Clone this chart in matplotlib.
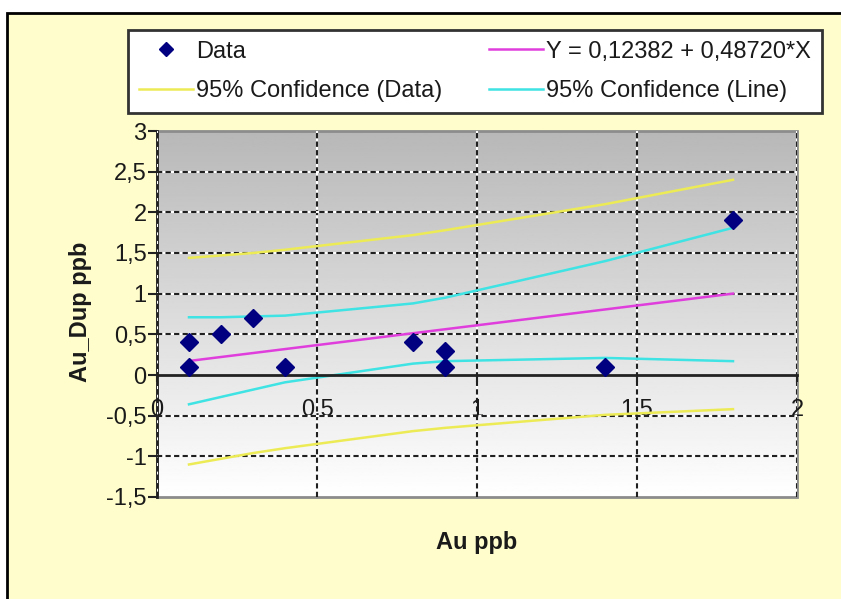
import numpy as np
import matplotlib
matplotlib.use('Agg')
import matplotlib.pyplot as plt
from matplotlib.patches import Rectangle
from matplotlib.lines import Line2D

plt.rcParams['font.family'] = ['Liberation Sans', 'DejaVu Sans']

# Au vs duplicate Au (ppb)
au     = [0.1, 0.1, 0.2, 0.3, 0.4, 0.8, 0.9, 0.9, 1.4, 1.8]
au_dup = [0.4, 0.1, 0.5, 0.7, 0.1, 0.4, 0.3, 0.1, 0.1, 1.9]

# fitted line
intercept = 0.12382
slope     = 0.48720
fit_x     = [0.1, 1.8]

# 95% bands at the sample x values
band_x  = [0.1, 0.2, 0.3, 0.4, 0.8, 0.9, 1.4, 1.8]
pred_lo = [-1.10, -1.03, -0.96, -0.90, -0.69, -0.65, -0.49, -0.42]
pred_hi = [1.44, 1.47, 1.50, 1.54, 1.72, 1.78, 2.10, 2.40]
line_lo = [-0.36, -0.27, -0.18, -0.09, 0.14, 0.17, 0.21, 0.17]
line_hi = [0.71, 0.71, 0.72, 0.73, 0.88, 0.95, 1.40, 1.81]

x_ticks  = [0, 0.5, 1, 1.5, 2]
x_labels = ['0', '0,5', '1', '1,5', '2']
y_ticks  = [-1.5, -1, -0.5, 0, 0.5, 1, 1.5, 2, 2.5, 3]
y_labels = ['-1,5', '-1', '-0,5', '0', '0,5', '1', '1,5', '2', '2,5', '3']

c_yellow  = '#EDEB55'
c_cyan    = '#3FE3E3'
c_magenta = '#E03EDC'
c_navy    = '#000080'
c_text    = '#1a1a1a'
fs = 17
lw = 1.8

W, H = 841, 599
fig = plt.figure(figsize=(W/100, H/100), dpi=100, facecolor='white')
# chart area frame
fig.add_artist(Rectangle((7/W, -0.05), 1.1, 1 - 13/H + 0.05, transform=fig.transFigure,
                         facecolor='#FFFDCC', edgecolor='black', linewidth=2, zorder=0))

ax = fig.add_axes([157/W, 1 - 497/H, 640/W, 366/H])

# grey-to-white plot area fill, darker at the top
grad = np.linspace(0.72, 1.0, 256).reshape(-1, 1)
ax.imshow(grad, cmap='gray', vmin=0, vmax=1, extent=[0, 2, -1.5, 3], aspect='auto',
          origin='upper', zorder=0)
ax.set_xlim(0, 2)
ax.set_ylim(-1.5, 3)

ax.plot(band_x, pred_hi, color=c_yellow, lw=lw, zorder=3)
ax.plot(band_x, pred_lo, color=c_yellow, lw=lw, zorder=3)
ax.plot(band_x, line_hi, color=c_cyan, lw=lw, zorder=3)
ax.plot(band_x, line_lo, color=c_cyan, lw=lw, zorder=3)
fit_y = [intercept + slope * x for x in fit_x]
ax.plot(fit_x, fit_y, color=c_magenta, lw=lw, zorder=3)
ax.plot(au, au_dup, linestyle='none', marker='D', markersize=9.5, color=c_navy, zorder=5)

# axes and grid
ax.set_xticks(x_ticks)
ax.set_xticklabels(x_labels)
ax.set_yticks(y_ticks)
ax.set_yticklabels(y_labels)
ax.grid(True, color='#202020', linestyle=(0, (2.5, 1.6)), linewidth=1.5,
        gapcolor='white')
ax.set_axisbelow(False)
for gl in ax.xaxis.get_gridlines() + ax.yaxis.get_gridlines():
    gl.set_zorder(1)
ax.xaxis.get_gridlines()[0].set_visible(False)
ax.xaxis.get_gridlines()[-1].set_visible(False)
for i in (0, 3, 9):
    ax.yaxis.get_gridlines()[i].set_visible(False)

for s in ('top', 'right'):
    ax.spines[s].set_visible(False)
ax.spines['bottom'].set_position(('data', 0))
ax.spines['bottom'].set_color('#222222')
ax.spines['bottom'].set_linewidth(2)
ax.spines['bottom'].set_zorder(4)
ax.spines['left'].set_color('#222222')
ax.spines['left'].set_linewidth(2)
ax.add_patch(Rectangle((0, 0), 1, 1, transform=ax.transAxes, fill=False,
                       edgecolor='#8c8c8c', linewidth=2, zorder=2, clip_on=False))

ax.tick_params(axis='y', direction='out', length=6.5, width=1.5, pad=1,
               labelsize=fs, colors='#222222', labelcolor=c_text)
ax.tick_params(axis='x', direction='out', length=5, width=1.5, pad=12,
               labelsize=fs, colors='#222222', labelcolor=c_text)

fig.text(477/W, 1 - 543/H, 'Au ppb', ha='center', va='center', fontsize=fs,
         fontweight='bold', color=c_text)
fig.text(81/W, 1 - 312/H, 'Au_Dup ppb', ha='center', va='center', rotation=90,
         fontsize=fs, fontweight='bold', color=c_text)

# legend
fit_label = f'Y = {intercept:.5f} + {slope:.5f}*X'.replace('.', ',')
handles = [
    Line2D([], [], linestyle='none', marker='D', markersize=7.5, color=c_navy),
    Line2D([], [], color=c_yellow, lw=lw),
    Line2D([], [], color=c_magenta, lw=lw),
    Line2D([], [], color=c_cyan, lw=lw),
]
labels = ['Data', '95% Confidence (Data)', fit_label, '95% Confidence (Line)']
leg = fig.legend(handles, labels, ncol=2, mode='expand',
                 bbox_to_anchor=(128/W, 1 - 113/H, 694/W, 83/H), loc='lower left',
                 fontsize=fs, frameon=True, fancybox=False, framealpha=1,
                 edgecolor='#333333', handlelength=2.3, handletextpad=0.15,
                 borderaxespad=0, labelspacing=0.75, columnspacing=1.0,
                 borderpad=0.45)
leg.get_frame().set_linewidth(2)
for t in leg.get_texts():
    t.set_color(c_text)

fig.savefig('out.png', dpi=100, facecolor=fig.get_facecolor())
